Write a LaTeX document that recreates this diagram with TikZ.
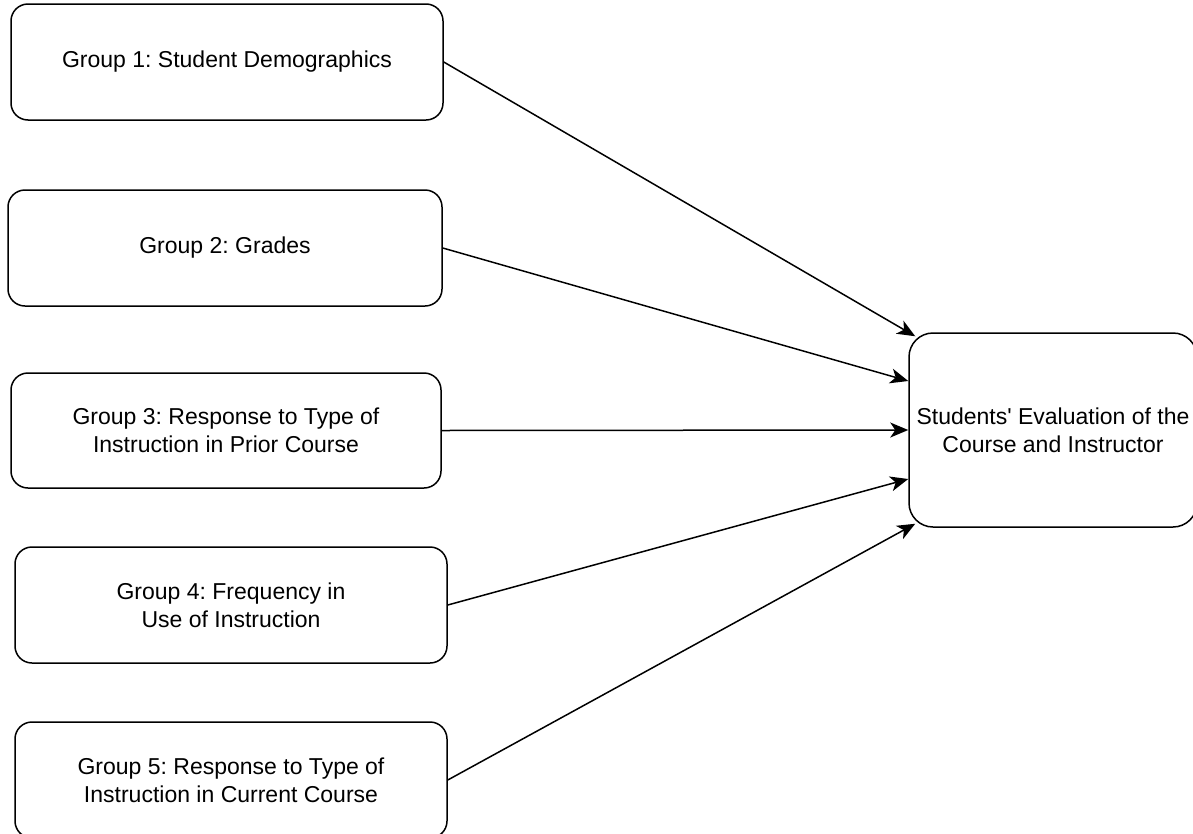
\documentclass[tikz,border=0pt]{standalone}
\usepackage{fontspec}
\setmainfont{Liberation Sans}
\usetikzlibrary{arrows.meta}

\tikzset{
  groupbox/.style={draw, line width=1.5pt, rounded corners=17pt,
    minimum width=432pt, minimum height=116pt, align=center,
    font=\fontsize{23}{28}\selectfont\frenchspacing, inner sep=0pt},
  outcomebox/.style={groupbox, rounded corners=24pt,
    minimum width=288pt, minimum height=194pt},
  link/.style={line width=1.5pt,
    -{Stealth[length=18pt, width=15pt, inset=5pt]}}
}

\begin{document}
\begin{tikzpicture}[x=1pt, y=-1pt]
  \useasboundingbox (0,0) rectangle (1193,833);

  % predictor groups
  \node[groupbox] (g1) at (227,62)  {Group 1: Student Demographics};
  \node[groupbox, minimum width=434pt] (g2) at (225,248) {Group 2: Grades};
  \node[groupbox, minimum width=430pt, minimum height=115pt] (g3) at (226,430.5)
    {Group 3: Response to Type of\\Instruction in Prior Course};
  \node[groupbox] (g4) at (231,605) {Group 4: Frequency in\\Use of Instruction};
  \node[groupbox] (g5) at (231,780)
    {Group 5: Response to Type of\\Instruction in Current Course};

  % outcome
  \node[outcomebox] (T) at (1053,430)
    {Students\textquotesingle{} Evaluation of the\\Course and Instructor};

  % connectors
  \draw[link] (g1.east) -- ([xshift=7pt, yshift=-4pt]T.north west);
  \draw[link] (g2.east) -- ([yshift=49pt]T.west);
  \draw[link] (g3.east) -- (T.west);
  \draw[link] (g4.east) -- ([yshift=-49pt]T.west);
  \draw[link] (g5.east) -- ([xshift=7pt, yshift=4pt]T.south west);
\end{tikzpicture}
\end{document}
